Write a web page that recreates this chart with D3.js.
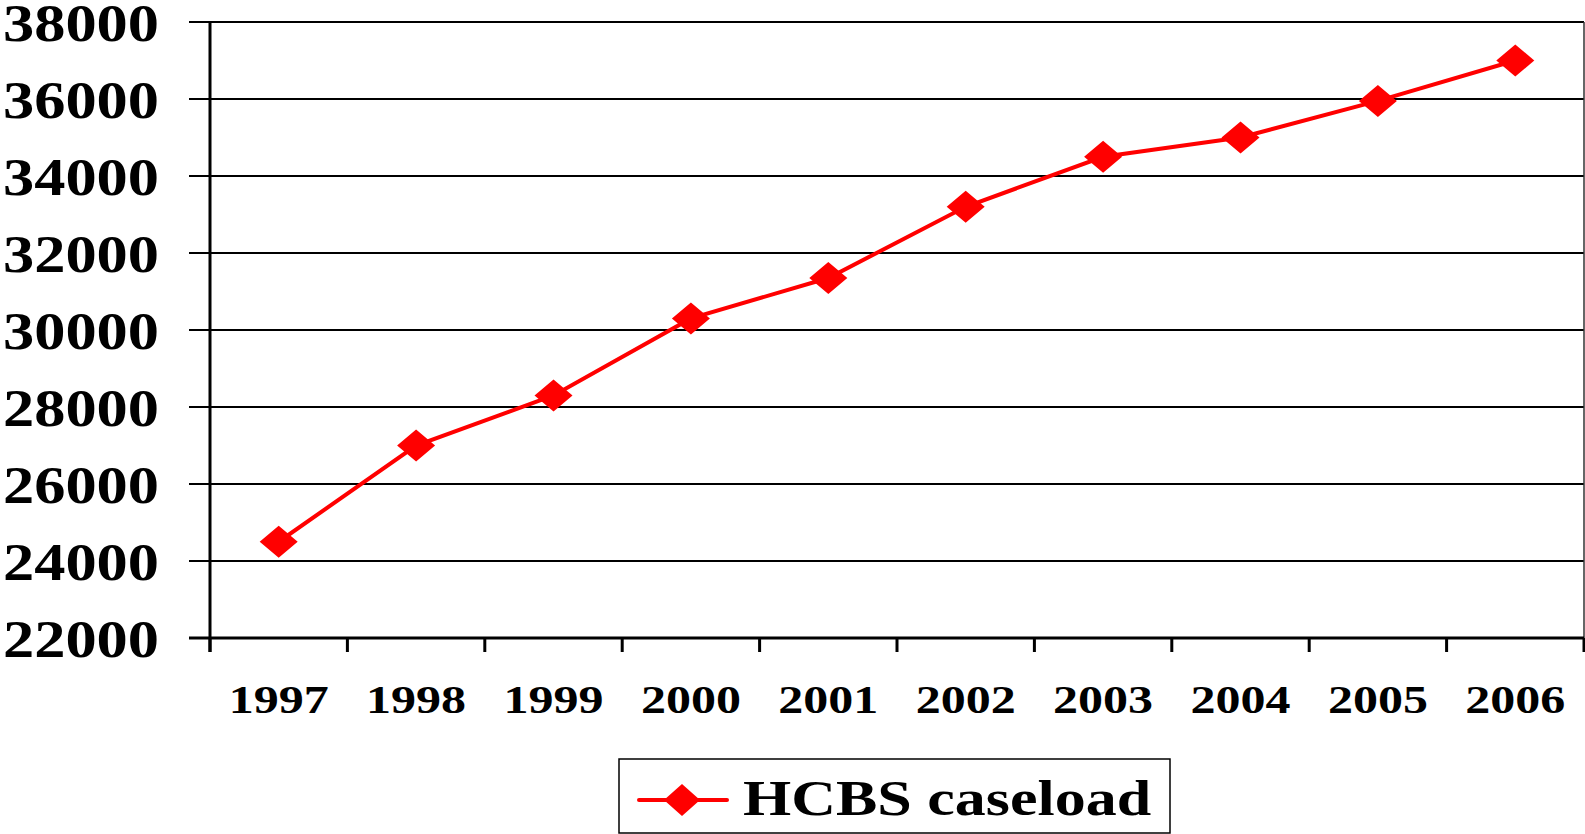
<!DOCTYPE html>
<html>
<head>
<meta charset="utf-8">
<script src="https://cdn.jsdelivr.net/npm/d3@7"></script>
<style>
  body { margin: 0; background: #fff; }
  svg { display: block; }
  text { font-family: "Liberation Serif", "Times New Roman", Times, serif; font-weight: bold; fill: #000; }
</style>
</head>
<body>
<svg id="chart" width="1585" height="834"></svg>
<script>
// data
var years = ["1997", "1998", "1999", "2000", "2001", "2002", "2003", "2004", "2005", "2006"];
var caseload = [24500, 27000, 28300, 30300, 31350, 33200, 34500, 35000, 35950, 37000];
var yTicks = [22000, 24000, 26000, 28000, 30000, 32000, 34000, 36000, 38000];
var seriesName = "HCBS caseload";

(function() {
  var svg = d3.select("#chart");
  var plotL = 210, plotR = 1584, plotT = 22, plotB = 638;
  var stretch = 1.2; // text in the original is widened

  var x = d3.scaleBand().domain(years).range([plotL, plotR]);
  var y = d3.scaleLinear().domain([22000, 38000]).range([plotB, plotT]);

  // horizontal gridlines
  svg.append("g").selectAll("line")
    .data(yTicks)
    .enter().append("line")
      .attr("x1", plotL - 21).attr("x2", plotR)
      .attr("y1", function(d) { return y(d); })
      .attr("y2", function(d) { return y(d); })
      .attr("stroke", "#000")
      .attr("stroke-width", 2);

  // right border of plot area
  svg.append("line")
    .attr("x1", plotR).attr("x2", plotR)
    .attr("y1", plotT).attr("y2", plotB)
    .attr("stroke", "#333").attr("stroke-width", 1.5);

  // y axis line
  svg.append("line")
    .attr("x1", plotL).attr("x2", plotL)
    .attr("y1", plotT).attr("y2", plotB + 14)
    .attr("stroke", "#000").attr("stroke-width", 3);

  // x axis line + ticks between categories
  svg.append("line")
    .attr("x1", plotL - 21).attr("x2", plotR)
    .attr("y1", plotB).attr("y2", plotB)
    .attr("stroke", "#000").attr("stroke-width", 3);

  var bounds = years.map(function(d) { return x(d); }).concat([plotR]);
  svg.append("g").selectAll("line")
    .data(bounds)
    .enter().append("line")
      .attr("x1", function(d) { return d; })
      .attr("x2", function(d) { return d; })
      .attr("y1", plotB).attr("y2", plotB + 14)
      .attr("stroke", "#000").attr("stroke-width", 3);

  // y labels
  svg.append("g").selectAll("text")
    .data(yTicks)
    .enter().append("text")
      .attr("transform", function(d) { return "translate(159," + (y(d) + 19) + ") scale(" + stretch + ",1)"; })
      .attr("text-anchor", "end")
      .style("font-size", "52px")
      .text(function(d) { return d; });

  // x labels
  svg.append("g").selectAll("text")
    .data(years)
    .enter().append("text")
      .attr("transform", function(d) { return "translate(" + (x(d) + x.bandwidth() / 2) + ",713) scale(" + (stretch + 0.05) + ",1)"; })
      .attr("text-anchor", "middle")
      .style("font-size", "40px")
      .text(function(d) { return d; });

  // series line
  var pts = years.map(function(d, i) { return [x(d) + x.bandwidth() / 2, y(caseload[i])]; });
  svg.append("path")
    .attr("d", d3.line()(pts))
    .attr("fill", "none")
    .attr("stroke", "#ff0000")
    .attr("stroke-width", 4);

  function diamond(cx, cy, w, h) {
    return "M" + (cx - w / 2) + "," + cy + "L" + cx + "," + (cy - h / 2) +
           "L" + (cx + w / 2) + "," + cy + "L" + cx + "," + (cy + h / 2) + "Z";
  }

  svg.append("g").selectAll("path")
    .data(pts)
    .enter().append("path")
      .attr("d", function(p) { return diamond(p[0], p[1], 38, 32); })
      .attr("fill", "#ff0000");

  // legend
  var lg = svg.append("g");
  lg.append("rect")
    .attr("x", 619).attr("y", 759)
    .attr("width", 551).attr("height", 74)
    .attr("fill", "#fff")
    .attr("stroke", "#000").attr("stroke-width", 1.5);
  lg.append("line")
    .attr("x1", 639).attr("x2", 727)
    .attr("y1", 800).attr("y2", 800)
    .attr("stroke", "#ff0000").attr("stroke-width", 4)
    .attr("stroke-linecap", "round");
  lg.append("path")
    .attr("d", diamond(682, 800, 36, 32))
    .attr("fill", "#ff0000");
  lg.append("text")
    .attr("transform", "translate(743,815) scale(1.24,1)")
    .style("font-size", "50px")
    .text(seriesName);
})();
</script>
</body>
</html>
